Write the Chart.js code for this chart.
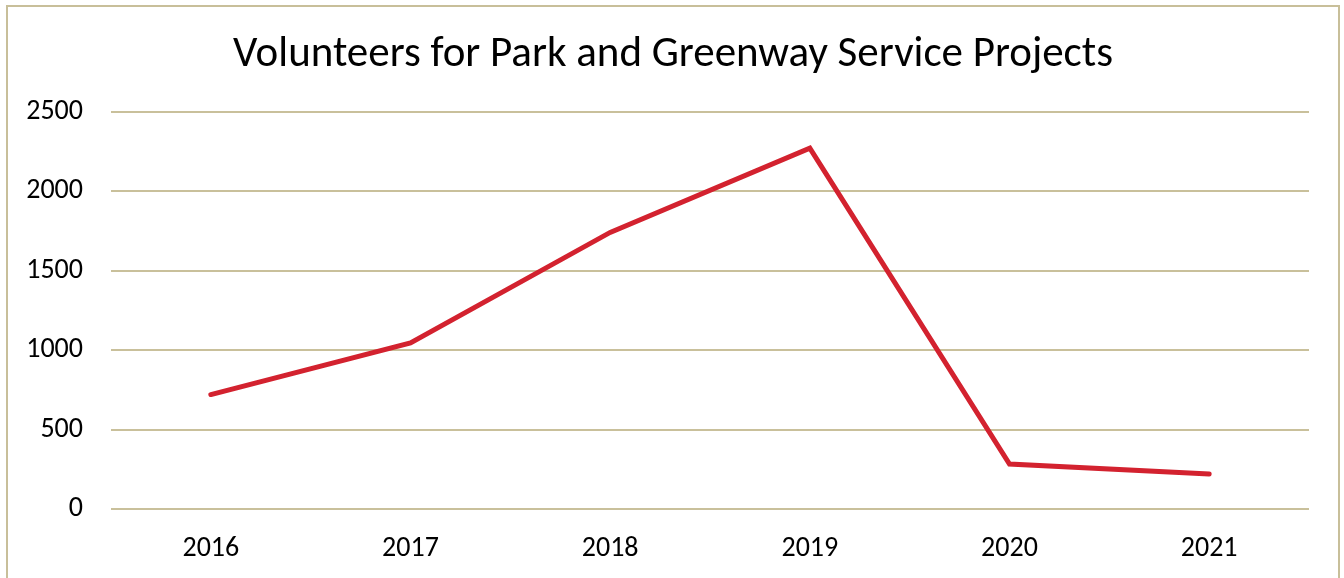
<!DOCTYPE html>
<html>
<head>
<meta charset="utf-8">
<script src="https://cdn.jsdelivr.net/npm/chart.js@4"></script>
<style>
  body { margin: 0; background: #fff; overflow: hidden; }
  #box {
    position: absolute; left: 6px; top: 5px;
    width: 1330px; height: 600px;
    border: 2px solid #c8bf9a;
  }
  #line { display: block; }
</style>
</head>
<body>
<div id="box"><canvas id="line" width="1330" height="571"></canvas></div>
<script>
const getEl = (id) => document.getElementById(id)

let years = ['2016', '2017', '2018', '2019', '2020', '2021']
let volunteers = [720, 1045, 1740, 2270, 283, 220]
let yTicks = [0, 500, 1000, 1500, 2000, 2500]

const fontFam = "Carlito, Lato, 'Liberation Sans', sans-serif"
const gridColor = '#c9c09b'

let customChart;

const charts = (id, type, data, options) => {
    var ctx = getEl(id).getContext('2d');

    if (customChart) {
        customChart.destroy()
    }

    customChart = new Chart(ctx, {
        type: type,
        data: data,
        options: options
    });
}

let temp = {
    data: {
        labels: years,
        datasets: [
            {
                label: 'Volunteers',
                data: volunteers,
                borderColor: '#d3222f',
                borderWidth: 5,
                borderCapStyle: 'round',
                borderJoinStyle: 'miter',
                pointRadius: 0,
                tension: 0
            }
        ]
    },
    options: {
        responsive: false,
        animation: false,
        layout: {
            padding: 0
        },
        scales: {
            x: {
                offset: true,
                grid: { display: false, drawTicks: false },
                border: { display: false },
                ticks: {
                    color: '#000',
                    padding: 23,
                    font: { family: fontFam, size: 28 }
                },
                afterFit: (scale) => { scale.height = 69 }
            },
            y: {
                min: 0,
                max: 2500,
                afterBuildTicks: (scale) => {
                    scale.ticks = yTicks.map(v => ({ value: v }))
                },
                grid: { color: gridColor, lineWidth: 2, drawTicks: false },
                border: { display: false },
                ticks: {
                    color: '#000',
                    padding: 28,
                    font: { family: fontFam, size: 28 },
                    // plain numbers, no thousands separator
                    callback: (v) => String(v)
                },
                afterFit: (scale) => { scale.width = 103 }
            },
            // empty right gutter so the title stays centred on the whole canvas
            gutter: {
                type: 'linear',
                position: 'right',
                grid: { display: false, drawTicks: false },
                border: { display: false },
                ticks: { display: false },
                afterFit: (scale) => { scale.width = 29 }
            }
        },
        plugins: {
            legend: { display: false },
            tooltip: { enabled: false },
            title: {
                display: true,
                text: 'Volunteers for Park and Greenway Service Projects',
                color: '#000',
                font: { family: fontFam, size: 43, weight: 'normal' },
                padding: { top: 22, bottom: 31 }
            }
        }
    }
}

charts('line', 'line', temp.data, temp.options)
</script>
</body>
</html>
